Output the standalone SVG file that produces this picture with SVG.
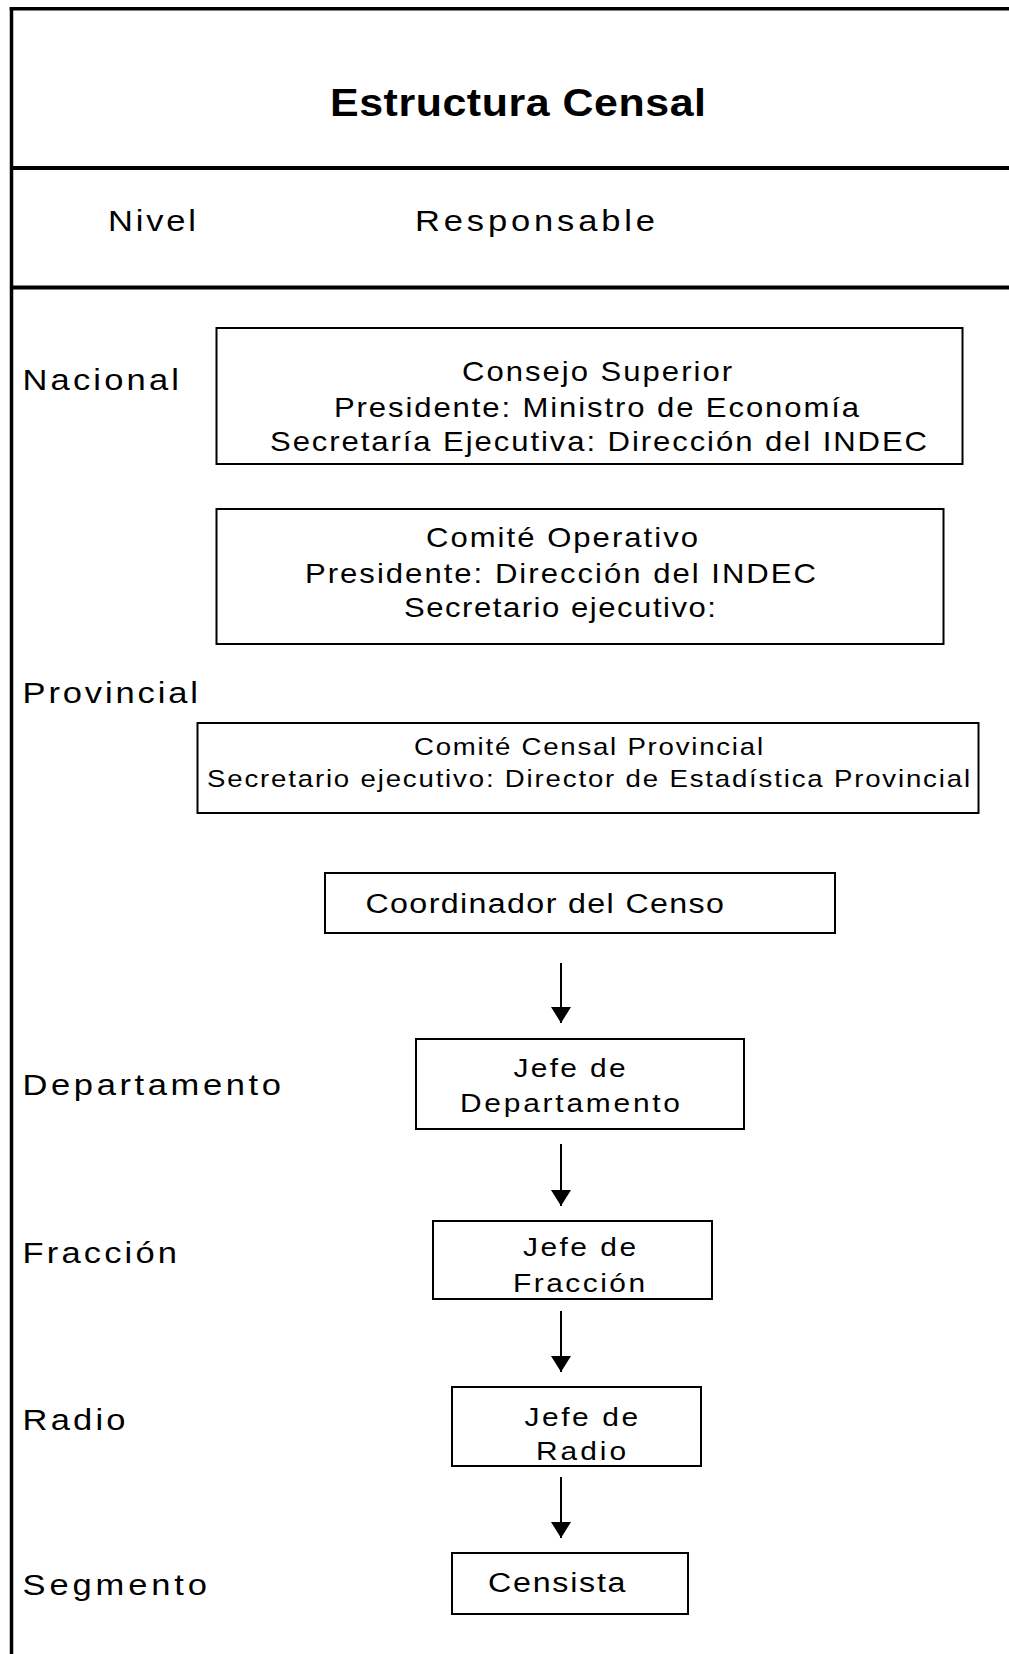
<svg xmlns="http://www.w3.org/2000/svg" width="1009" height="1654" viewBox="0 0 1009 1654">
  <defs>
    <style>
      .frame { stroke: #000; stroke-width: 3.5; fill: none; }
      .div { stroke: #000; stroke-width: 4; fill: none; }
      .box { stroke: #000; stroke-width: 2; fill: none; }
      .conn { stroke: #000; stroke-width: 2; fill: none; }
      text { font-family: "Liberation Sans", Arial, sans-serif; fill: #000; }
      .title { font-size: 39px; font-weight: bold; }
      .lbl { font-size: 30px; }
      .t27 { font-size: 27px; }
      .t24 { font-size: 24px; }
      .t28 { font-size: 28px; }
      .t26 { font-size: 26px; }
    </style>
    <marker id="arrow" markerUnits="userSpaceOnUse" markerWidth="20" markerHeight="20" refX="16" refY="10" orient="auto" viewBox="0 0 20 20">
      <path d="M0,0 L16,10 L0,20 z" fill="#000"/>
    </marker>
  </defs>
  <rect x="0" y="0" width="1009" height="1654" fill="#fff"/>

  <g id="frame">
    <line class="frame" x1="9.75" y1="8.75" x2="1009" y2="8.75"/>
    <line class="frame" x1="11.5" y1="7" x2="11.5" y2="1654"/>
    <line class="div" x1="11.5" y1="168" x2="1009" y2="168"/>
    <line class="div" x1="11.5" y1="287.5" x2="1009" y2="287.5"/>
  </g>

  <g id="header">
    <text class="title" transform="translate(330,116) scale(1.1,1)" textLength="341.8" lengthAdjust="spacing">Estructura Censal</text>
    <text class="lbl" transform="translate(108,231) scale(1.15,1)" textLength="76.5" lengthAdjust="spacing">Nivel</text>
    <text class="lbl" transform="translate(415,231) scale(1.15,1)" textLength="208.7" lengthAdjust="spacing">Responsable</text>
  </g>

  <g id="levels">
    <text class="lbl" transform="translate(22.5,390) scale(1.15,1)" textLength="136.1" lengthAdjust="spacing">Nacional</text>
    <text class="lbl" transform="translate(22.5,703) scale(1.15,1)" textLength="152.6" lengthAdjust="spacing">Provincial</text>
    <text class="lbl" transform="translate(22.5,1095) scale(1.15,1)" textLength="224.8" lengthAdjust="spacing">Departamento</text>
    <text class="lbl" transform="translate(22.5,1263) scale(1.15,1)" textLength="134.3" lengthAdjust="spacing">Fracción</text>
    <text class="lbl" transform="translate(22.5,1430) scale(1.15,1)" textLength="89.6" lengthAdjust="spacing">Radio</text>
    <text class="lbl" transform="translate(22.5,1595) scale(1.15,1)" textLength="160.4" lengthAdjust="spacing">Segmento</text>
  </g>

  <g id="consejo-superior">
    <rect class="box" x="216.5" y="328" width="746" height="136"/>
    <text class="t27" transform="translate(462,381) scale(1.15,1)" textLength="234.8" lengthAdjust="spacing">Consejo Superior</text>
    <text class="t27" transform="translate(334,417) scale(1.15,1)" textLength="456.5" lengthAdjust="spacing">Presidente: Ministro de Economía</text>
    <text class="t27" transform="translate(270,451) scale(1.15,1)" textLength="571.3" lengthAdjust="spacing">Secretaría Ejecutiva: Dirección del INDEC</text>
  </g>

  <g id="comite-operativo">
    <rect class="box" x="216.5" y="509" width="727" height="135"/>
    <text class="t27" transform="translate(426,547) scale(1.15,1)" textLength="236.5" lengthAdjust="spacing">Comité Operativo</text>
    <text class="t27" transform="translate(305,583) scale(1.15,1)" textLength="444.3" lengthAdjust="spacing">Presidente: Dirección del INDEC</text>
    <text class="t27" transform="translate(404,617) scale(1.15,1)" textLength="271.3" lengthAdjust="spacing">Secretario ejecutivo:</text>
  </g>

  <g id="comite-censal-provincial">
    <rect class="box" x="197.5" y="723" width="781" height="90"/>
    <text class="t24" transform="translate(414,755) scale(1.15,1)" textLength="303.5" lengthAdjust="spacing">Comité Censal Provincial</text>
    <text class="t24" transform="translate(207,787) scale(1.15,1)" textLength="663.5" lengthAdjust="spacing">Secretario ejecutivo: Director de Estadística Provincial</text>
  </g>

  <g id="coordinador">
    <rect class="box" x="325" y="873" width="510" height="60"/>
    <text class="t28" transform="translate(365.5,913) scale(1.15,1)" textLength="311.7" lengthAdjust="spacing">Coordinador del Censo</text>
  </g>

  <g id="jefe-departamento">
    <rect class="box" x="416" y="1039" width="328" height="90"/>
    <text class="t26" transform="translate(513.5,1077) scale(1.15,1)" textLength="97.4" lengthAdjust="spacing">Jefe de</text>
    <text class="t26" transform="translate(460,1112) scale(1.15,1)" textLength="191.3" lengthAdjust="spacing">Departamento</text>
  </g>

  <g id="jefe-fraccion">
    <rect class="box" x="433" y="1221" width="279" height="78"/>
    <text class="t26" transform="translate(523,1256) scale(1.15,1)" textLength="98.3" lengthAdjust="spacing">Jefe de</text>
    <text class="t26" transform="translate(513,1292) scale(1.15,1)" textLength="114.8" lengthAdjust="spacing">Fracción</text>
  </g>

  <g id="jefe-radio">
    <rect class="box" x="452" y="1387" width="249" height="79"/>
    <text class="t26" transform="translate(524.5,1426) scale(1.15,1)" textLength="98.7" lengthAdjust="spacing">Jefe de</text>
    <text class="t26" transform="translate(536,1460) scale(1.15,1)" textLength="78.3" lengthAdjust="spacing">Radio</text>
  </g>

  <g id="censista">
    <rect class="box" x="452" y="1553" width="236" height="61"/>
    <text class="t28" transform="translate(488,1592) scale(1.15,1)" textLength="119.6" lengthAdjust="spacing">Censista</text>
  </g>

  <g id="connectors">
    <line class="conn" x1="561" y1="963" x2="561" y2="1023" marker-end="url(#arrow)"/>
    <line class="conn" x1="561" y1="1144" x2="561" y2="1206" marker-end="url(#arrow)"/>
    <line class="conn" x1="561" y1="1311" x2="561" y2="1372" marker-end="url(#arrow)"/>
    <line class="conn" x1="561" y1="1477" x2="561" y2="1538" marker-end="url(#arrow)"/>
  </g>
</svg>
